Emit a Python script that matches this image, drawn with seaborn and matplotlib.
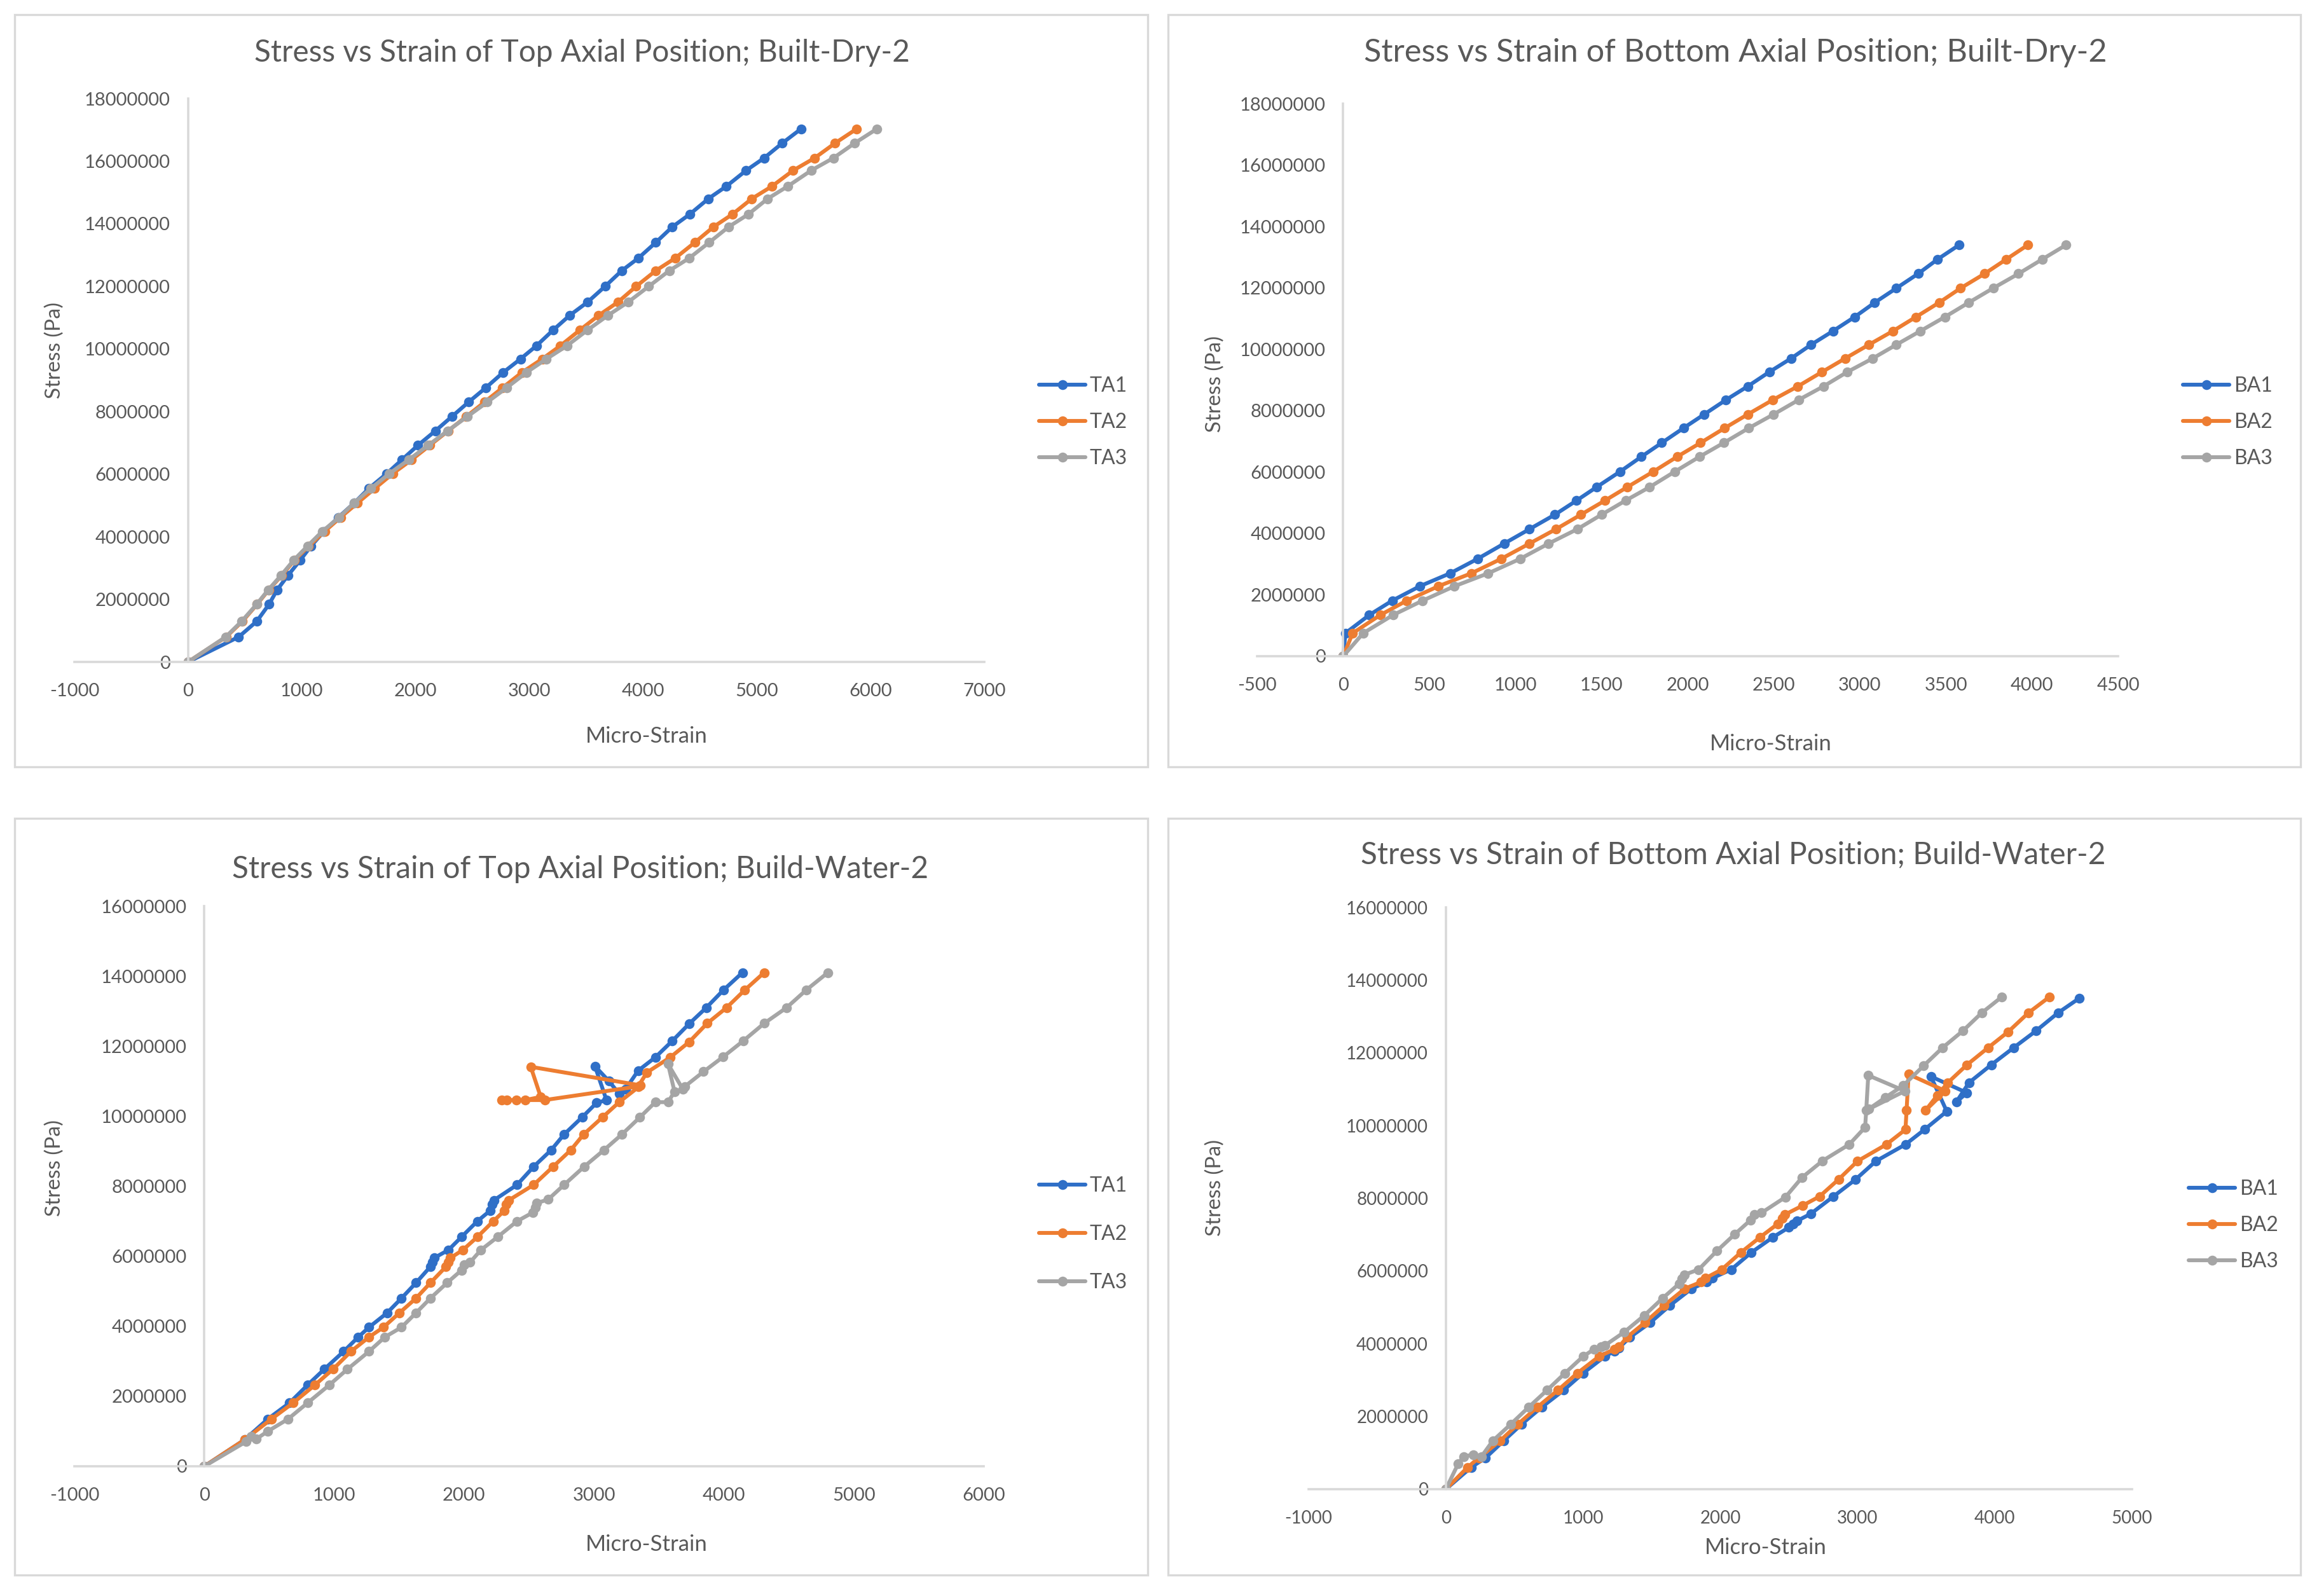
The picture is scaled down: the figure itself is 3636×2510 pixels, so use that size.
import pandas as pd
import seaborn as sns
import matplotlib.pyplot as plt
from matplotlib.patches import Rectangle
from matplotlib.ticker import FuncFormatter

# ---------------- Built-Dry-2, top axial position ----------------
dry_top_stress = [0, 0.80e6, 1.30e6, 1.84e6, 2.30e6, 2.76e6, 3.25e6, 3.70e6, 4.17e6, 4.62e6,
                  5.08e6, 5.54e6, 6.02e6, 6.46e6, 6.92e6, 7.38e6, 7.84e6, 8.30e6, 8.76e6, 9.25e6,
                  9.68e6, 10.10e6, 10.60e6, 11.07e6, 11.50e6, 12.00e6, 12.50e6, 12.90e6, 13.40e6,
                  13.90e6, 14.30e6, 14.80e6, 15.20e6, 15.70e6, 16.10e6, 16.57e6, 17.03e6]
dry_ta1_strain = [0, 445, 604, 711, 782, 877, 985, 1080, 1194, 1321, 1461, 1588, 1747, 1880, 2020,
                  2173, 2319, 2465, 2617, 2770, 2922, 3062, 3208, 3354, 3513, 3666, 3812, 3958,
                  4111, 4257, 4409, 4574, 4733, 4905, 5064, 5222, 5388]
dry_ta2_strain = [0, 335, 478, 606, 708, 822, 935, 1060, 1200, 1340, 1490, 1640, 1800, 1965, 2125,
                  2285, 2446, 2605, 2764, 2935, 3113, 3272, 3443, 3609, 3780, 3939, 4111, 4282,
                  4454, 4619, 4784, 4956, 5134, 5318, 5508, 5686, 5877]
dry_ta3_strain = [0, 331, 471, 602, 704, 816, 928, 1049, 1179, 1328, 1459, 1606, 1770, 1940, 2110,
                  2280, 2455, 2630, 2800, 2975, 3150, 3330, 3510, 3690, 3870, 4050, 4230, 4405,
                  4580, 4752, 4924, 5095, 5273, 5477, 5673, 5858, 6055]

# ---------------- Built-Dry-2, bottom axial position ----------------
dry_bot_stress = [0, 0.75e6, 1.34e6, 1.81e6, 2.28e6, 2.70e6, 3.17e6, 3.67e6, 4.14e6, 4.61e6,
                  5.07e6, 5.51e6, 6.01e6, 6.50e6, 6.95e6, 7.43e6, 7.88e6, 8.35e6, 8.79e6, 9.26e6,
                  9.70e6, 10.15e6, 10.59e6, 11.05e6, 11.52e6, 11.99e6, 12.46e6, 12.93e6, 13.40e6]
dry_ba1_strain = [0, 13, 151, 285, 445, 621, 780, 935, 1082, 1229, 1355, 1472, 1607, 1732, 1850,
                  1976, 2097, 2223, 2349, 2475, 2601, 2718, 2844, 2970, 3087, 3213, 3339, 3452, 3578]
dry_ba2_strain = [0, 55, 215, 369, 553, 744, 917, 1082, 1236, 1380, 1520, 1650, 1800, 1940, 2075,
                  2215, 2350, 2495, 2640, 2781, 2915, 3054, 3192, 3326, 3461, 3586, 3725, 3851, 3977]
dry_ba3_strain = [0, 116, 289, 461, 646, 842, 1027, 1193, 1360, 1500, 1640, 1780, 1925, 2070, 2210,
                  2355, 2500, 2645, 2789, 2928, 3075, 3213, 3351, 3494, 3633, 3775, 3922, 4060, 4199]

# ---------------- Build-Water-2, top axial position ----------------
wet_ta1_strain = [0, 311, 489, 656, 795, 923, 1073, 1185, 1268, 1407, 1518, 1630, 1740, 1757, 1770,
                  1880, 1980, 2102, 2200, 2214, 2230, 2408, 2536, 2670, 2770, 2909, 3020, 3096,
                  3007, 3115, 3194, 3243, 3340, 3472, 3603, 3733, 3865, 3996, 4143]
wet_ta1_stress = [0, 0.76e6, 1.35e6, 1.81e6, 2.32e6, 2.77e6, 3.28e6, 3.69e6, 3.97e6, 4.38e6,
                  4.80e6, 5.24e6, 5.70e6, 5.83e6, 5.95e6, 6.18e6, 6.55e6, 7.00e6, 7.30e6, 7.48e6,
                  7.60e6, 8.04e6, 8.56e6, 9.03e6, 9.48e6, 9.97e6, 10.38e6, 10.46e6, 11.43e6,
                  11.00e6, 10.64e6, 10.77e6, 11.30e6, 11.68e6, 12.15e6, 12.64e6, 13.10e6,
                  13.60e6, 14.10e6]
wet_ta2_strain = [0, 311, 517, 684, 851, 990, 1129, 1268, 1379, 1502, 1630, 1741, 1860, 1880, 1895,
                  1991, 2102, 2225, 2310, 2325, 2345, 2536, 2686, 2821, 2920, 3066, 3194, 3359,
                  2513, 2590, 2470, 2400, 2330, 2290, 2620, 3340, 3408, 3587, 3733, 3871, 4021,
                  4160, 4310]
wet_ta2_stress = [0, 0.76e6, 1.35e6, 1.81e6, 2.32e6, 2.77e6, 3.28e6, 3.69e6, 3.97e6, 4.38e6,
                  4.80e6, 5.24e6, 5.70e6, 5.83e6, 5.95e6, 6.18e6, 6.55e6, 7.00e6, 7.30e6, 7.48e6,
                  7.60e6, 8.04e6, 8.56e6, 9.03e6, 9.48e6, 9.97e6, 10.40e6, 10.88e6, 11.41e6,
                  10.55e6, 10.46e6, 10.46e6, 10.46e6, 10.46e6, 10.46e6, 10.85e6, 11.25e6,
                  11.68e6, 12.12e6, 12.65e6, 13.10e6, 13.60e6, 14.10e6]
wet_ta3_strain = [0, 320, 360, 400, 489, 645, 795, 962, 1101, 1268, 1390, 1518, 1630, 1741, 1869,
                  1980, 2000, 2047, 2130, 2258, 2408, 2530, 2547, 2560, 2647, 2770, 2925, 3076,
                  3215, 3354, 3472, 3570, 3620, 3570, 3684, 3700, 3843, 3993, 4149, 4310, 4483,
                  4633, 4800]
wet_ta3_stress = [0, 0.70e6, 0.85e6, 0.78e6, 1.00e6, 1.35e6, 1.81e6, 2.32e6, 2.77e6, 3.28e6,
                  3.69e6, 3.97e6, 4.38e6, 4.80e6, 5.24e6, 5.60e6, 5.75e6, 5.83e6, 6.18e6, 6.55e6,
                  7.00e6, 7.25e6, 7.40e6, 7.52e6, 7.62e6, 8.04e6, 8.56e6, 9.03e6, 9.48e6, 9.97e6,
                  10.40e6, 10.40e6, 10.70e6, 11.49e6, 10.77e6, 10.85e6, 11.27e6, 11.69e6,
                  12.15e6, 12.65e6, 13.10e6, 13.60e6, 14.10e6]

# ---------------- Build-Water-2, bottom axial position ----------------
wet_ba1_strain = [0, 184, 289, 421, 553, 700, 858, 1000, 1158, 1230, 1260, 1342, 1489, 1632, 1789,
                  1900, 1940, 2079, 2226, 2384, 2500, 2530, 2560, 2658, 2824, 2986, 3133, 3349,
                  3488, 3650, 3534, 3797, 3720, 3812, 3974, 4137, 4299, 4461, 4615]
wet_ba1_stress = [0, 0.60e6, 0.86e6, 1.33e6, 1.79e6, 2.26e6, 2.72e6, 3.19e6, 3.65e6, 3.80e6,
                  3.88e6, 4.18e6, 4.58e6, 5.05e6, 5.51e6, 5.70e6, 5.80e6, 6.04e6, 6.51e6, 6.93e6,
                  7.20e6, 7.30e6, 7.38e6, 7.57e6, 8.05e6, 8.52e6, 9.02e6, 9.48e6, 9.89e6, 10.39e6,
                  11.35e6, 10.90e6, 10.65e6, 11.18e6, 11.67e6, 12.14e6, 12.60e6, 13.10e6, 13.50e6]
wet_ba2_strain = [0, 158, 240, 395, 526, 668, 816, 958, 1116, 1230, 1263, 1320, 1450, 1590, 1740,
                  1860, 1890, 2010, 2150, 2290, 2420, 2450, 2470, 2600, 2723, 2862, 2999, 3210,
                  3349, 3357, 3372, 3640, 3496, 3581, 3658, 3797, 3951, 4098, 4245, 4399]
wet_ba2_stress = [0, 0.60e6, 0.86e6, 1.33e6, 1.79e6, 2.26e6, 2.72e6, 3.19e6, 3.65e6, 3.85e6,
                  3.92e6, 4.18e6, 4.58e6, 5.05e6, 5.51e6, 5.70e6, 5.80e6, 6.04e6, 6.51e6, 6.93e6,
                  7.30e6, 7.45e6, 7.55e6, 7.80e6, 8.05e6, 8.52e6, 9.02e6, 9.48e6, 9.89e6, 10.42e6,
                  11.41e6, 10.95e6, 10.42e6, 10.83e6, 11.18e6, 11.67e6, 12.14e6, 12.58e6,
                  13.10e6, 13.54e6]
wet_ba3_strain = [0, 90, 130, 200, 260, 342, 474, 605, 737, 868, 1000, 1080, 1130, 1158, 1300,
                  1447, 1579, 1700, 1721, 1740, 1842, 1974, 2105, 2220, 2250, 2300, 2474, 2595,
                  2745, 2939, 3055, 3063, 3078, 3345, 3080, 3202, 3333, 3480, 3619, 3766, 3905,
                  4052]
wet_ba3_stress = [0, 0.70e6, 0.90e6, 0.95e6, 0.90e6, 1.33e6, 1.79e6, 2.26e6, 2.72e6, 3.19e6,
                  3.65e6, 3.85e6, 3.92e6, 3.95e6, 4.32e6, 4.78e6, 5.25e6, 5.65e6, 5.78e6, 5.90e6,
                  6.04e6, 6.55e6, 7.01e6, 7.40e6, 7.55e6, 7.60e6, 8.03e6, 8.57e6, 9.03e6, 9.48e6,
                  9.95e6, 10.42e6, 11.38e6, 10.95e6, 10.45e6, 10.77e6, 11.10e6, 11.64e6,
                  12.14e6, 12.60e6, 13.10e6, 13.54e6]

COLORS = ['#2F6FC7', '#ED7D31', '#A5A5A5']
TEXT = '#595959'
AXIS = '#D9D9D9'
W, H = 3637, 2510


def fig_rect(left, top, right, bottom):
    # pixel box (from top-left) -> figure fraction [l, b, w, h]
    return [left / W, 1 - bottom / H, (right - left) / W, (bottom - top) / H]


def fig_xy(x, y):
    return x / W, 1 - y / H


def draw_panel(fig, p):
    frames = []
    for name, xs, ys in p['series']:
        frames.append(pd.DataFrame({'strain': xs, 'stress': ys, 'series': name}))
    df = pd.concat(frames, ignore_index=True)

    ax = fig.add_axes(fig_rect(*p['axes']))
    sns.lineplot(
        data=df, x='strain', y='stress', hue='series',
        palette=COLORS, sort=False, estimator=None,
        marker='o', markersize=5.6, markeredgewidth=0,
        linewidth=2.2, ax=ax
    )

    ax.set_xlim(p['xticks'][0], p['xticks'][-1])
    ax.set_ylim(0, p['ymax'])
    ax.set_xticks(p['xticks'])
    ax.set_yticks(range(0, int(p['ymax']) + 1, 2000000))
    ax.yaxis.set_major_formatter(FuncFormatter(lambda v, _: f"{v:.0f}"))
    ax.xaxis.set_major_formatter(FuncFormatter(lambda v, _: f"{v:.0f}"))
    ax.tick_params(length=0, labelsize=p['tick_size'], labelcolor=TEXT)
    ax.tick_params(axis='y', pad=10)
    ax.tick_params(axis='x', pad=12)
    for side in ['top', 'right']:
        ax.spines[side].set_visible(False)
    ax.spines['left'].set_position(('data', 0))
    for side in ['left', 'bottom']:
        ax.spines[side].set_color(AXIS)
        ax.spines[side].set_linewidth(1.3)
    ax.set_xlabel('')
    ax.set_ylabel('')
    ax.grid(False)
    ax.set_facecolor('none')

    handles, labels = ax.get_legend_handles_labels()
    ax.legend(
        handles, labels, loc='center left',
        bbox_to_anchor=fig_xy(*p['legend']), bbox_transform=fig.transFigure,
        frameon=False, fontsize=11.5, labelcolor=TEXT,
        handlelength=2.3, handletextpad=0.2, labelspacing=p['legend_gap'],
        borderaxespad=0, borderpad=0
    )

    fig.text(*fig_xy(*p['title_xy']), p['title'], ha='center', va='center',
             fontsize=p['title_size'], color=TEXT)
    fig.text(*fig_xy(*p['xlabel_xy']), 'Micro-Strain', ha='center', va='center',
             fontsize=12.5, color=TEXT)
    fig.text(*fig_xy(*p['ylabel_xy']), 'Stress (Pa)', ha='center', va='center',
             rotation=90, fontsize=12, color=TEXT)

    l, t, r, b = p['box']
    fig.add_artist(Rectangle(((l / W), 1 - b / H), (r - l) / W, (b - t) / H,
                             transform=fig.transFigure, fill=False,
                             edgecolor=AXIS, linewidth=1.2))


if __name__ == '__main__':
    sns.set_style('white')
    plt.rcParams['font.family'] = ['Lato', 'DejaVu Sans']

    fig = plt.figure(figsize=(W / 200, H / 200), dpi=200)

    panels = [
        dict(series=[('TA1', dry_ta1_strain, dry_top_stress),
                     ('TA2', dry_ta2_strain, dry_top_stress),
                     ('TA3', dry_ta3_strain, dry_top_stress)],
             axes=(117, 155, 1548, 1041), box=(23, 23, 1805, 1206),
             xticks=list(range(-1000, 7001, 1000)), ymax=18000000, tick_size=10.5,
             title='Stress vs Strain of Top Axial Position; Built-Dry-2',
             title_xy=(915, 83), title_size=17.2,
             xlabel_xy=(1017, 1158), ylabel_xy=(86, 551),
             legend=(1634, 664), legend_gap=0.85),
        dict(series=[('BA1', dry_ba1_strain, dry_bot_stress),
                     ('BA2', dry_ba2_strain, dry_bot_stress),
                     ('BA3', dry_ba3_strain, dry_bot_stress)],
             axes=(1977, 163, 3331, 1032), box=(1837, 23, 3618, 1206),
             xticks=list(range(-500, 4501, 500)), ymax=18000000, tick_size=10.5,
             title='Stress vs Strain of Bottom Axial Position; Built-Dry-2',
             title_xy=(2729, 83), title_size=18.2,
             xlabel_xy=(2785, 1170), ylabel_xy=(1911, 604),
             legend=(3433, 664), legend_gap=0.85),
        dict(series=[('TA1', wet_ta1_strain, wet_ta1_stress),
                     ('TA2', wet_ta2_strain, wet_ta2_stress),
                     ('TA3', wet_ta3_strain, wet_ta3_stress)],
             axes=(117, 1425, 1547, 2306), box=(23, 1287, 1805, 2477),
             xticks=list(range(-1000, 6001, 1000)), ymax=16000000, tick_size=10.5,
             title='Stress vs Strain of Top Axial Position; Build-Water-2',
             title_xy=(913, 1367), title_size=17.2,
             xlabel_xy=(1017, 2429), ylabel_xy=(86, 1837),
             legend=(1634, 1941), legend_gap=1.45),
        dict(series=[('BA1', wet_ba1_strain, wet_ba1_stress),
                     ('BA2', wet_ba2_strain, wet_ba2_stress),
                     ('BA3', wet_ba3_strain, wet_ba3_stress)],
             axes=(2058, 1427, 3353, 2342), box=(1837, 1287, 3618, 2477),
             xticks=list(range(-1000, 5001, 1000)), ymax=16000000, tick_size=10,
             title='Stress vs Strain of Bottom Axial Position; Build-Water-2',
             title_xy=(2726, 1344), title_size=17.2,
             xlabel_xy=(2777, 2434), ylabel_xy=(1911, 1868),
             legend=(3442, 1927), legend_gap=0.85),
    ]

    for p in panels:
        draw_panel(fig, p)

    fig.savefig('out.png', dpi=200, facecolor='white')
    plt.close(fig)
